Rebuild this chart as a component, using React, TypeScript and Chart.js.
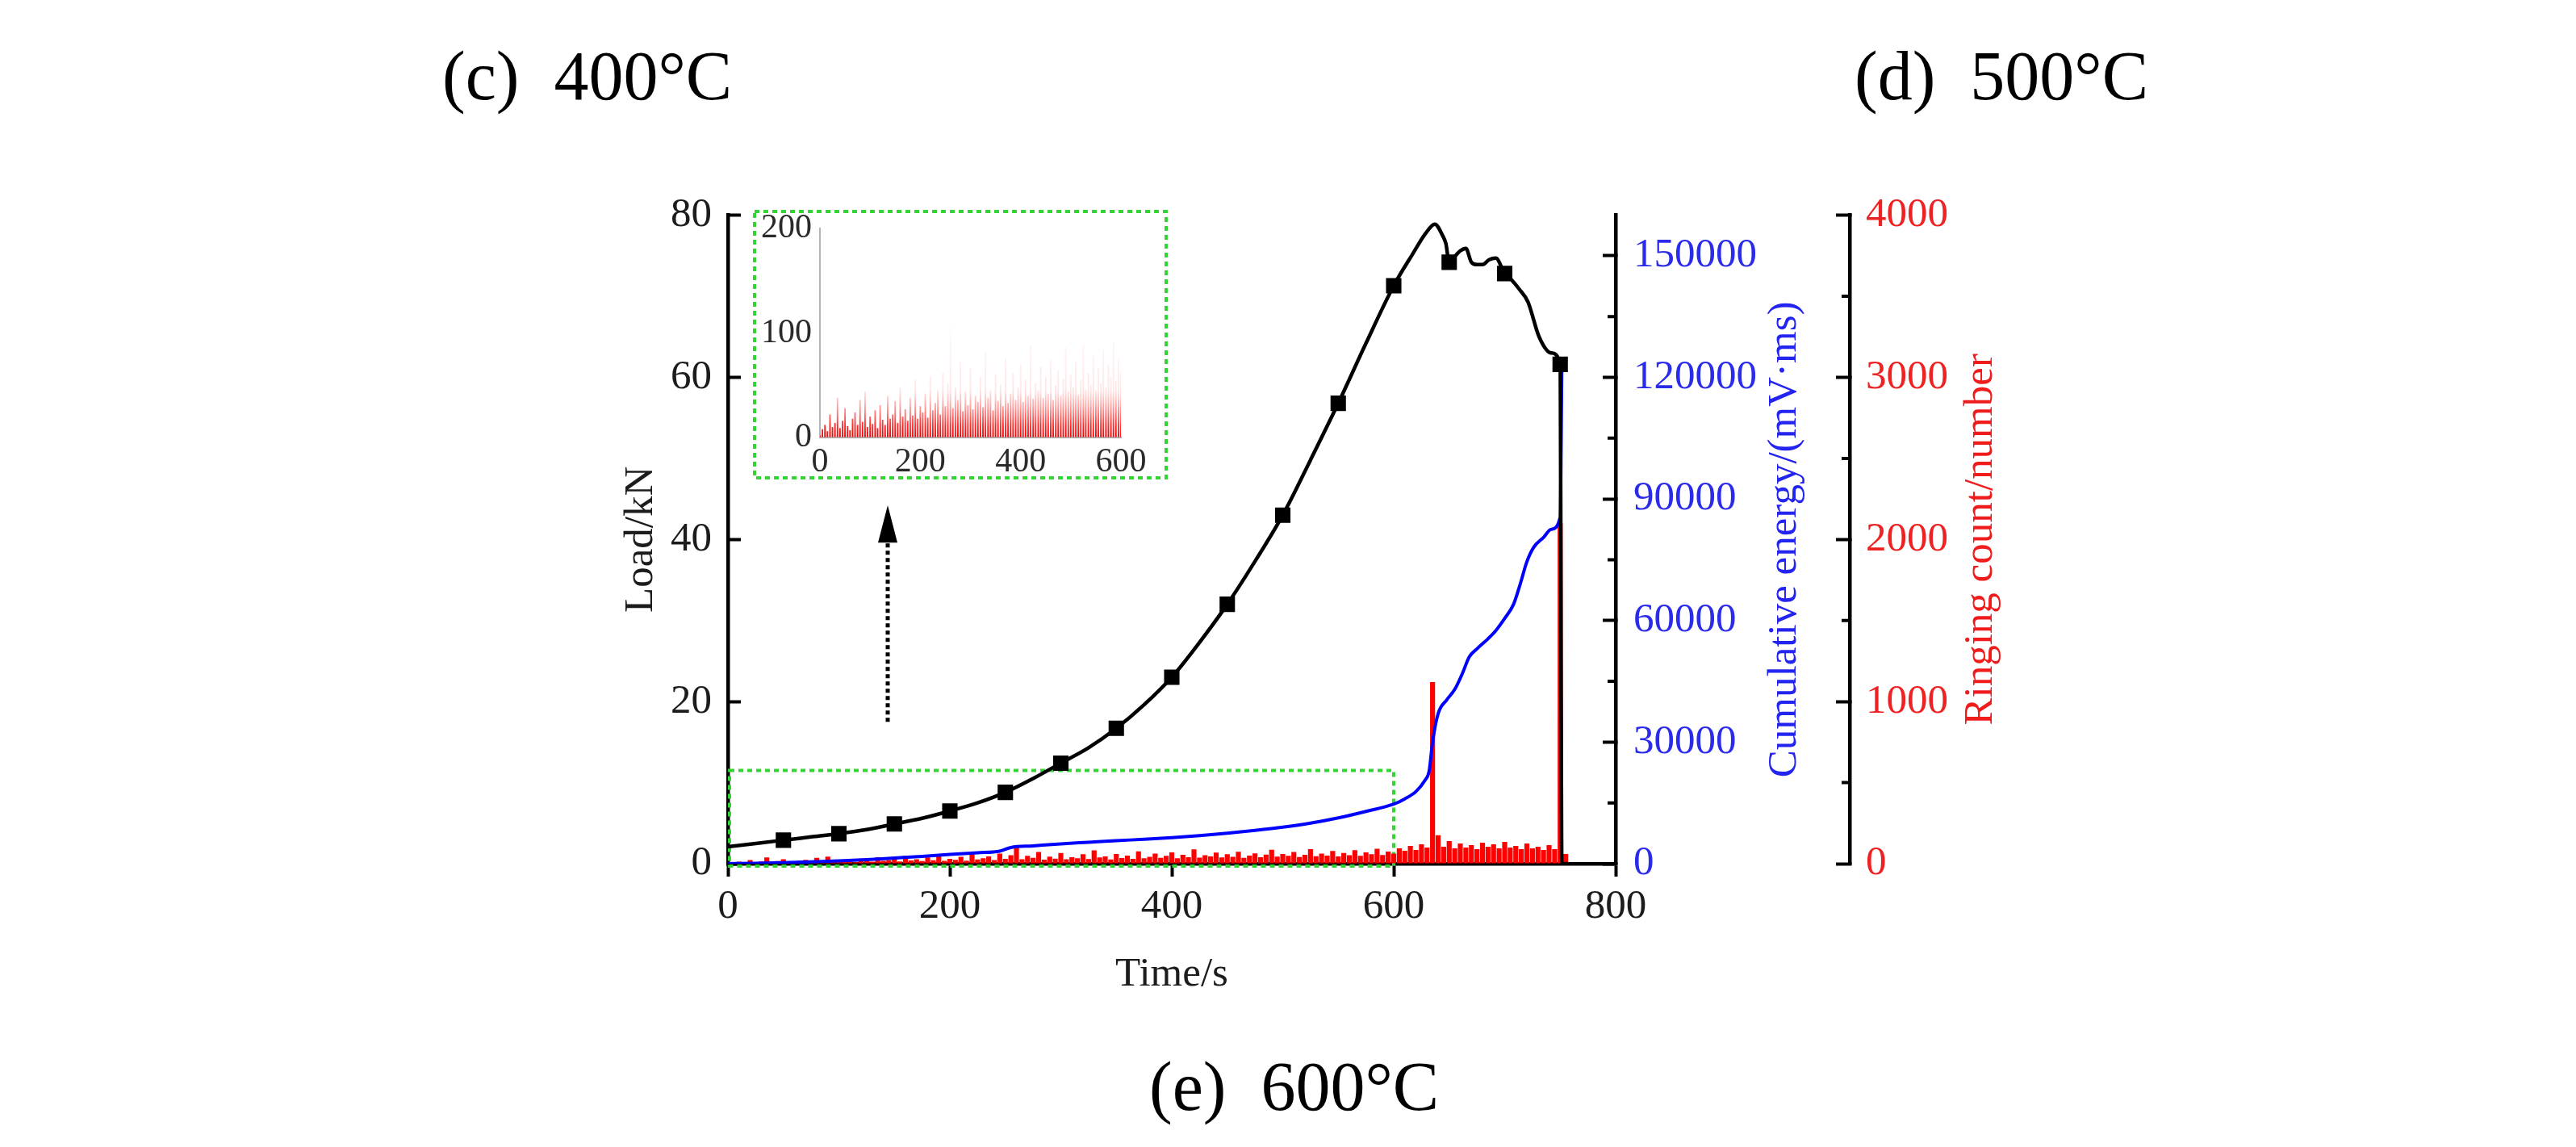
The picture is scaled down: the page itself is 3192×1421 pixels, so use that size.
import { useEffect, useRef } from 'react'
import Chart from 'chart.js/auto'

const SERIF = "'Liberation Serif', 'Times New Roman', serif"

// Load curve (kN) against time (s)
const loadTimes = [
  0, 25, 50, 75, 100, 125, 150, 175, 200, 225, 250, 275, 300, 325, 350, 375, 400, 425, 450, 475,
  500, 525, 550, 575, 600, 617, 629, 637, 644, 647, 650, 655, 660, 665, 670, 675, 680, 686, 692, 700,
  707, 713, 721, 731, 742, 750, 751.5, 757
]
const loadValues = [
  2.1, 2.5, 2.9, 3.3, 3.7, 4.2, 4.9, 5.6, 6.5, 7.5, 8.8, 10.5, 12.4, 14.3, 16.7, 19.6, 23.0, 27.3, 32.0, 37.3,
  43.0, 49.8, 56.8, 64.2, 71.3, 75.2, 77.8, 78.9, 77.5, 76.5, 74.2, 74.9, 75.6, 75.9, 74.2, 73.9, 73.9, 74.5, 74.7, 72.8,
  71.9, 70.9, 69.3, 65.0, 63.0, 61.6, 0, 0
]
const loadMarkerTimes = [50, 100, 150, 200, 250, 300, 350, 400, 450, 500, 550, 600, 650, 700, 750]

// Cumulative energy (mV·ms)
const energyTimes = [
  0, 25, 50, 75, 100, 125, 150, 175, 200, 225, 245, 255, 275, 300, 325, 350, 375, 400, 425, 450,
  475, 500, 525, 550, 575, 600, 610, 620, 628, 632, 635, 640, 648, 655, 662, 668, 675, 685, 692, 700,
  708, 714, 720, 726, 735, 742, 750, 751.5
]
const energyValues = [
  0, 100, 250, 450, 700, 1000, 1400, 1800, 2300, 2700, 3100, 4000, 4400, 4900, 5300, 5700, 6000, 6400, 6900, 7500,
  8200, 9000, 10000, 11300, 12900, 14700, 16000, 17800, 20500, 23000, 30000, 37000, 40500, 43000, 47000, 51000, 53000, 55500, 57500, 60500,
  64000, 69000, 74500, 78000, 80500, 82500, 85500, 123000
]

// Ringing count per sample
const ringTimes = [
  0, 5, 10, 15, 20, 25, 30, 35, 40, 45, 50, 55, 60, 65, 70, 75, 80, 85, 90, 95,
  100, 105, 110, 115, 120, 125, 130, 135, 140, 145, 150, 155, 160, 165, 170, 175, 180, 185, 190, 195,
  200, 205, 210, 215, 220, 225, 230, 235, 240, 245, 250, 255, 260, 265, 270, 275, 280, 285, 290, 295,
  300, 305, 310, 315, 320, 325, 330, 335, 340, 345, 350, 355, 360, 365, 370, 375, 380, 385, 390, 395,
  400, 405, 410, 415, 420, 425, 430, 435, 440, 445, 450, 455, 460, 465, 470, 475, 480, 485, 490, 495,
  500, 505, 510, 515, 520, 525, 530, 535, 540, 545, 550, 555, 560, 565, 570, 575, 580, 585, 590, 595,
  600, 605, 610, 615, 620, 625, 630, 635, 640, 645, 650, 655, 660, 665, 670, 675, 680, 685, 690, 695,
  700, 705, 710, 715, 720, 725, 730, 735, 740, 745, 750, 755, 760
]
const ringValues = [
  2, 8, 12, 6, 22, 10, 14, 38, 9, 16, 28, 11, 7, 18, 24, 12, 36, 15, 44, 10,
  20, 13, 26, 9, 31, 17, 12, 40, 18, 22, 35, 14, 48, 20, 27, 16, 38, 21, 55, 18,
  30, 24, 42, 19, 58, 26, 33, 45, 22, 62, 30, 52, 105, 28, 48, 36, 72, 25, 44, 31,
  66, 27, 40, 34, 58, 29, 82, 38, 45, 26, 60, 35, 50, 30, 76, 33, 42, 62, 36, 48,
  70, 34, 55, 40, 88, 37, 52, 45, 68, 38, 58, 42, 74, 36, 50, 64, 40, 56, 86, 44,
  60, 48, 72, 41, 55, 90, 46, 62, 50, 78, 45, 66, 52, 84, 48, 70, 58, 92, 54, 75,
  62, 95, 80, 110, 85, 120, 100, 1120, 175, 105, 140, 95, 125, 100, 115, 90, 130, 105, 120, 95,
  135, 100, 110, 90, 125, 95, 105, 85, 115, 90, 2100, 60, 0
]

const energyTicks = [0, 30000, 60000, 90000, 120000, 150000]
const energyMinorTicks = [15000, 45000, 75000, 105000, 135000]
const ringMinorTicks = [500, 1500, 2500, 3500]

// zoomed region shown in the inset, and the arrow pointing to it
const zoomBox = { tMin: 0, tMax: 600, loadMin: 0, loadMax: 11.5 }
const arrowMark = { t: 144, loadFrom: 17.5, headBase: 39.6, loadTo: 44.2 }
const insetEnd = 600

const fitWidth = (w: number) => (scale: any) => { scale.width = w }
const fitHeight = (h: number) => (scale: any) => { scale.height = h }

const tickFont = { family: SERIF, size: 51 }

const mainDecor = {
  id: 'mainDecor',
  beforeDatasetsDraw(chart: any) {
    const { ctx, scales: { x, y } } = chart
    const left = x.getPixelForValue(zoomBox.tMin)
    const right = x.getPixelForValue(zoomBox.tMax)
    const top = y.getPixelForValue(zoomBox.loadMax)
    const bottom = y.getPixelForValue(zoomBox.loadMin)
    ctx.save()
    ctx.strokeStyle = '#35d435'
    ctx.lineWidth = 4
    ctx.setLineDash([6, 5])
    ctx.strokeRect(left + 2, top, right - left - 2, bottom - top + 3)
    ctx.restore()
  },
  afterDraw(chart: any) {
    const { ctx, chartArea, scales: { x, y, y1, y2 } } = chart

    // dotted arrow
    const ax = x.getPixelForValue(arrowMark.t)
    const yFrom = y.getPixelForValue(arrowMark.loadFrom)
    const yBase = y.getPixelForValue(arrowMark.headBase)
    const yTip = y.getPixelForValue(arrowMark.loadTo)
    ctx.save()
    ctx.strokeStyle = '#000'
    ctx.lineWidth = 5
    ctx.setLineDash([5, 4])
    ctx.beginPath()
    ctx.moveTo(ax, yFrom)
    ctx.lineTo(ax, yBase)
    ctx.stroke()
    ctx.setLineDash([])
    ctx.fillStyle = '#000'
    ctx.beginPath()
    ctx.moveTo(ax - 12, yBase)
    ctx.lineTo(ax + 12, yBase)
    ctx.lineTo(ax, yTip)
    ctx.closePath()
    ctx.fill()

    // minor ticks on the right axes
    ctx.lineWidth = 4
    ctx.beginPath()
    energyMinorTicks.forEach(v => {
      const py = y1.getPixelForValue(v)
      ctx.moveTo(y1.left, py)
      ctx.lineTo(y1.left - 10, py)
    })
    ringMinorTicks.forEach(v => {
      const py = y2.getPixelForValue(v)
      ctx.moveTo(y2.left, py)
      ctx.lineTo(y2.left - 10, py)
    })
    ctx.stroke()

    // right axis titles, reading bottom to top
    const midY = (chartArea.top + chartArea.bottom) / 2
    const vTitle = (text: string, cx: number, color: string) => {
      ctx.save()
      ctx.translate(cx, midY)
      ctx.rotate(-Math.PI / 2)
      ctx.font = `51px ${SERIF}`
      ctx.fillStyle = color
      ctx.textAlign = 'center'
      ctx.textBaseline = 'middle'
      ctx.fillText(text, 0, 0)
      ctx.restore()
    }
    vTitle('Cumulative energy/(mV\u00b7ms)', y1.left + 210, '#2424f0')
    vTitle('Ringing count/number', y2.left + 163, '#f01c1c')
    ctx.restore()
  }
}

const insetFrame = {
  id: 'insetFrame',
  afterDraw(chart: any) {
    const { ctx } = chart
    ctx.save()
    ctx.strokeStyle = '#35d435'
    ctx.lineWidth = 4
    ctx.setLineDash([6, 5])
    ctx.strokeRect(10, 30, 510, 330)
    ctx.restore()
  }
}

const LoadChart = () => {
  const canvasRef = useRef<HTMLCanvasElement>(null)

  useEffect(() => {
    if (!canvasRef.current) return
    const chart = new Chart(canvasRef.current, {
      type: 'line',
      data: {
        datasets: [
          {
            label: 'Load',
            data: loadTimes.map((t, i) => ({ x: t, y: loadValues[i] })),
            yAxisID: 'y',
            borderColor: '#000',
            backgroundColor: '#000',
            borderWidth: 4.5,
            cubicInterpolationMode: 'monotone',
            pointStyle: 'rect',
            pointRadius: (ctx: any) => (loadMarkerTimes.includes(loadTimes[ctx.dataIndex]) ? 13.5 : 0),
            pointBorderWidth: 0,
            order: 1
          },
          {
            label: 'Cumulative energy',
            data: energyTimes.map((t, i) => ({ x: t, y: energyValues[i] })),
            yAxisID: 'y1',
            borderColor: '#0000ff',
            borderWidth: 4,
            cubicInterpolationMode: 'monotone',
            pointRadius: 0,
            order: 2
          },
          {
            type: 'bar',
            label: 'Ringing count',
            data: ringTimes.map((t, i) => ({ x: t, y: ringValues[i] })),
            yAxisID: 'y2',
            backgroundColor: '#ff0000',
            barPercentage: 0.9,
            categoryPercentage: 1,
            order: 3
          }
        ] as any
      },
      options: {
        animation: false,
        responsive: true,
        maintainAspectRatio: false,
        events: [],
        layout: { padding: { top: 60, right: 58, bottom: 0, left: 0 } },
        plugins: { legend: { display: false }, tooltip: { enabled: false } },
        scales: {
          x: {
            type: 'linear',
            min: 0,
            max: 800,
            offset: false,
            afterFit: fitHeight(170),
            ticks: { stepSize: 200, font: tickFont, color: '#1c1c1c', padding: 7, maxRotation: 0 },
            grid: { offset: false, drawOnChartArea: false, tickLength: 16, tickWidth: 4, tickColor: '#000' },
            border: { color: '#000', width: 4.5 },
            title: {
              display: true,
              text: 'Time/s',
              font: tickFont,
              color: '#1c1c1c',
              padding: { top: 0, bottom: 2 }
            }
          },
          y: {
            position: 'left',
            min: 0,
            max: 80,
            afterFit: fitWidth(202),
            ticks: { stepSize: 20, font: tickFont, color: '#1c1c1c', padding: 36 },
            grid: { drawOnChartArea: false, tickLength: -16, tickWidth: 4, tickColor: '#000' },
            border: { color: '#000', width: 4.5 },
            title: {
              display: true,
              text: 'Load/kN',
              font: tickFont,
              color: '#1c1c1c',
              padding: { top: 64, bottom: 0 }
            }
          },
          y1: {
            position: 'right',
            weight: 0,
            min: 0,
            max: 160000,
            afterFit: fitWidth(290),
            afterBuildTicks: (scale: any) => {
              scale.ticks = energyTicks.map(v => ({ value: v }))
            },
            ticks: {
              font: tickFont,
              color: '#2b2bea',
              padding: 38,
              callback: (v: any) => String(v)
            },
            grid: { drawOnChartArea: false, tickLength: -16, tickWidth: 4, tickColor: '#000' },
            border: { color: '#000', width: 4.5 }
          },
          y2: {
            position: 'right',
            weight: 1,
            min: 0,
            max: 4000,
            afterFit: fitWidth(200),
            ticks: {
              stepSize: 1000,
              font: tickFont,
              color: '#ee2222',
              padding: 37,
              callback: (v: any) => String(v)
            },
            grid: { drawOnChartArea: false, tickLength: -17, tickWidth: 4, tickColor: '#000' },
            border: { color: '#000', width: 4.5 }
          }
        }
      } as any,
      plugins: [mainDecor]
    })
    return () => chart.destroy()
  }, [])

  return (
    <div style={{ position: 'absolute', left: 700, top: 198, width: 1850, height: 1042 }}>
      <canvas ref={canvasRef}></canvas>
    </div>
  )
}

const InsetChart = () => {
  const canvasRef = useRef<HTMLCanvasElement>(null)

  useEffect(() => {
    if (!canvasRef.current) return
    const points = ringTimes
      .map((t, i) => ({ x: t, y: ringValues[i] }))
      .filter(p => p.x <= insetEnd)

    const chart = new Chart(canvasRef.current, {
      type: 'bar',
      data: {
        datasets: [
          {
            label: 'Ringing count',
            data: points,
            barPercentage: 0.6,
            categoryPercentage: 1,
            backgroundColor: (ctx: any) => {
              const { chart: c } = ctx
              if (!c.chartArea) return '#ff0000'
              const ys = c.scales.y
              const g = c.ctx.createLinearGradient(0, ys.getPixelForValue(0), 0, ys.getPixelForValue(100))
              g.addColorStop(0, 'rgba(230,0,0,1)')
              g.addColorStop(0.12, 'rgba(255,10,10,0.85)')
              g.addColorStop(0.3, 'rgba(255,50,50,0.45)')
              g.addColorStop(0.45, 'rgba(255,90,90,0.15)')
              g.addColorStop(1, 'rgba(255,120,120,0.05)')
              return g
            }
          }
        ] as any
      },
      options: {
        animation: false,
        responsive: true,
        maintainAspectRatio: false,
        events: [],
        layout: { padding: { top: 51, right: 66, bottom: 0, left: 0 } },
        plugins: { legend: { display: false }, tooltip: { enabled: false } },
        scales: {
          x: {
            type: 'linear',
            min: 0,
            max: 600,
            offset: false,
            afterFit: fitHeight(62),
            ticks: { stepSize: 200, font: { family: SERIF, size: 42 }, color: '#2a2a2a', padding: 6, maxRotation: 0 },
            grid: { offset: false, drawOnChartArea: false, drawTicks: false },
            border: { color: '#b4b4b4', width: 2 }
          },
          y: {
            min: 0,
            max: 200,
            afterFit: fitWidth(91),
            ticks: { stepSize: 100, font: { family: SERIF, size: 42 }, color: '#2a2a2a', padding: 10 },
            grid: { drawOnChartArea: false, drawTicks: false },
            border: { color: '#b4b4b4', width: 2 }
          }
        }
      } as any,
      plugins: [insetFrame]
    })
    return () => chart.destroy()
  }, [])

  return (
    <div style={{ position: 'absolute', left: 925, top: 232, width: 530, height: 372 }}>
      <canvas ref={canvasRef}></canvas>
    </div>
  )
}

const caption = (left: number, top: number) => ({
  position: 'absolute' as const,
  left,
  top,
  fontFamily: SERIF,
  fontSize: 86,
  lineHeight: '86px',
  whiteSpace: 'pre' as const,
  color: '#000'
})

export default function App() {
  return (
    <div style={{ position: 'absolute', left: 0, top: 0, width: 3192, height: 1421, background: '#fff', overflow: 'hidden' }}>
      <div style={caption(548, 51)}>(c)  400°C</div>
      <div style={caption(2298, 51)}>(d)  500°C</div>
      <LoadChart />
      <InsetChart />
      <div style={caption(1424, 1303)}>(e)  600°C</div>
    </div>
  )
}
